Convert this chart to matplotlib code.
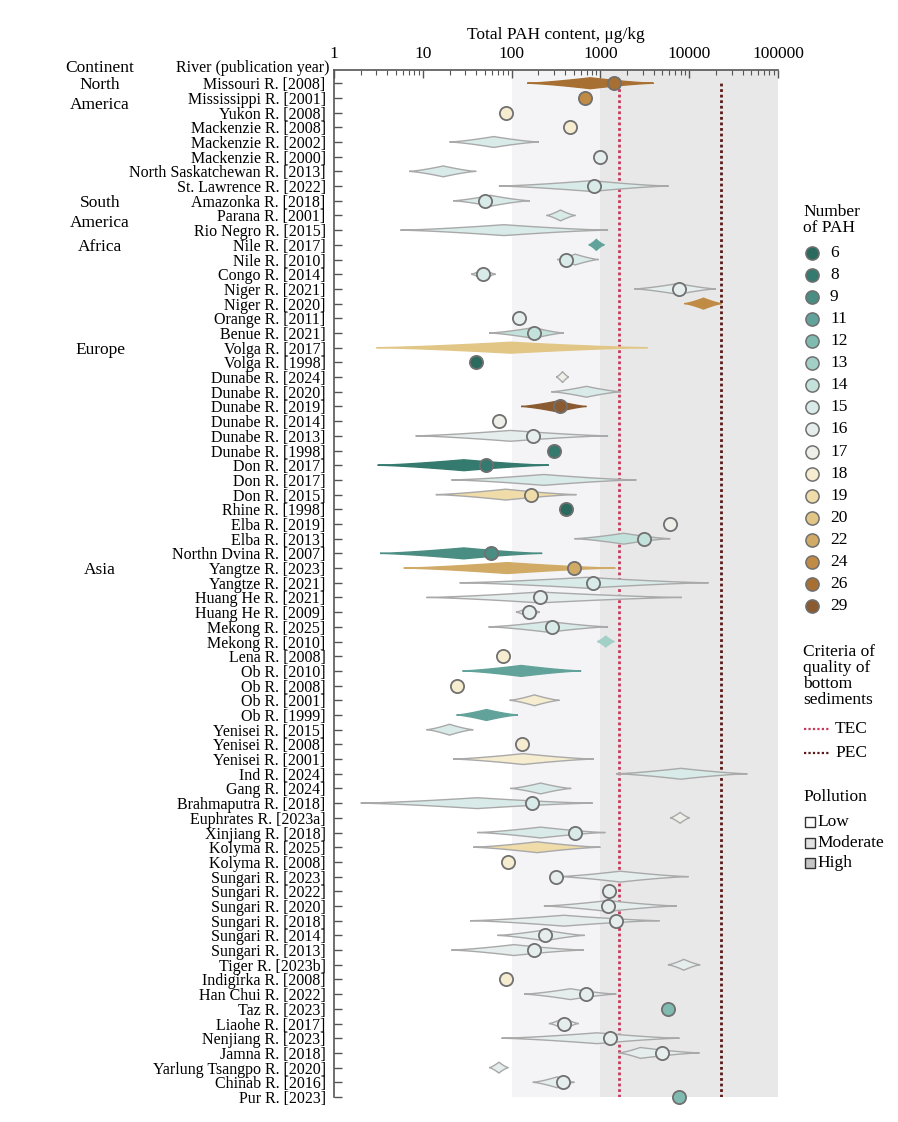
import numpy as np
import matplotlib
matplotlib.use("Agg")
import matplotlib.pyplot as plt
from matplotlib.transforms import blended_transform_factory
from matplotlib.ticker import LogLocator, NullFormatter

plt.rcParams['font.family'] = ['Liberation Serif', 'DejaVu Serif']

# rows, top to bottom
rivers = [
    "Missouri R. [2008]", "Mississippi R. [2001]", "Yukon R. [2008]", "Mackenzie R. [2008]",
    "Mackenzie R. [2002]", "Mackenzie R. [2000]", "North Saskatchewan R. [2013]",
    "St. Lawrence R. [2022]", "Amazonka R. [2018]", "Parana R. [2001]", "Rio Negro R. [2015]",
    "Nile R. [2017]", "Nile R. [2010]", "Congo R. [2014]", "Niger R. [2021]", "Niger R. [2020]",
    "Orange R. [2011]", "Benue R. [2021]", "Volga R. [2017]", "Volga R. [1998]",
    "Dunabe R. [2024]", "Dunabe R. [2020]", "Dunabe R. [2019]", "Dunabe R. [2014]",
    "Dunabe R. [2013]", "Dunabe R. [1998]", "Don R. [2017]", "Don R. [2017]", "Don R. [2015]",
    "Rhine R. [1998]", "Elba R. [2019]", "Elba R. [2013]", "Northn Dvina R. [2007]",
    "Yangtze R. [2023]", "Yangtze R. [2021]", "Huang He R. [2021]", "Huang He R. [2009]",
    "Mekong R. [2025]", "Mekong R. [2010]", "Lena R. [2008]", "Ob R. [2010]", "Ob R. [2008]",
    "Ob R. [2001]", "Ob R. [1999]", "Yenisei R. [2015]", "Yenisei R. [2008]",
    "Yenisei R. [2001]", "Ind R. [2024]", "Gang R. [2024]", "Brahmaputra R. [2018]",
    "Euphrates R. [2023a]", "Xinjiang R. [2018]", "Kolyma R. [2025]", "Kolyma R. [2008]",
    "Sungari R. [2023]", "Sungari R. [2022]", "Sungari R. [2020]", "Sungari R. [2018]",
    "Sungari R. [2014]", "Sungari R. [2013]", "Tiger R. [2023b]", "Indigirka R. [2008]",
    "Han Chui R. [2022]", "Taz R. [2023]", "Liaohe R. [2017]", "Nenjiang R. [2023]",
    "Jamna R. [2018]", "Yarlung Tsangpo R. [2020]", "Chinab R. [2016]", "Pur R. [2023]",
]
n_pah = [26, 24, 18, 18, 15, 16, 15, 15, 15, 15, 15, 11, 15, 15, 16, 24, 16, 14, 20, 6,
         17, 15, 29, 17, 16, 8, 8, 15, 19, 6, 17, 14, 9, 22, 15, 16, 16, 15, 13, 18,
         11, 18, 18, 11, 15, 18, 18, 15, 15, 15, 17, 15, 19, 18, 16, 16, 16, 16, 16, 16,
         16, 18, 16, 12, 16, 16, 16, 16, 16, 12]
N = None
range_lo = [150, N, N, N, 20, N, 7, 72, 22, 247, 5.6, 739, 326, 35, 2410, 8850, N, 56, 3.0, N,
            318, 279, 128, N, 8.3, N, 3.1, 21, 14, N, N, 510, 3.3, 6.1, 26, 11, 112, 55, 918, N,
            28, N, 95, 24, 11, N, 22, 1500, 97, 2.0, 6120, 41, 37, N, 330, N, 231, 34, 69, 21,
            5760, N, 138, N, 263, 77, 1607, 56, 173, N]
range_peak = [770, N, N, N, 63, N, 17, 800, 58, 355, 82, 900, 520, 48, 7500, 14500, N, 178, 97, N,
              375, 696, 330, N, 97, N, 29, 231, 86, N, N, 1830, 29, 89, 700, 208, 159, 260, 1150, N,
              128, N, 181, 52, 20, N, 135, 8060, 212, 41, 7900, 212, 194, N, 1680, N, 1210, 387, 237, 106,
              8700, N, 460, N, 387, 918, 2810, 72, 326, N]
range_hi = [3970, N, N, N, 203, N, 40, 5860, 161, 524, 1220, 1109, 957, 66, 19950, 23300, N, 387, 3400, N,
            441, 1710, 696, N, 1220, N, 263, 2540, 537, N, N, 6120, 221, 1475, 16500, 8280, 208, 1220, 1437, N,
            607, N, 346, 118, 37, N, 841, 45200, 469, 820, 10100, 1138, 1000, N, 9830, N, 7270, 4640, 667, 650,
            13300, N, 1510, N, 571, 7780, 13060, 92, 510, N]
point_val = [1440, 670, 86, 460, N, 1000, N, 857, 50, N, N, N, 415, 48, 7720, N, 122, 178, N, 40,
             N, N, 355, 73, 172, 304, 52, N, 166, 408, 6120, 3070, 58, 506, 820, 208, 159, 287, N, 81,
             N, 24, N, N, N, 131, N, N, N, 171, N, 519, N, 92, 320, 1240, 1210, 1510, 237, 181,
             N, 86, 690, 5760, 387, 1270, 4930, N, 378, 7720]

continents = ["North\nAmerica", "South\nAmerica", "Africa", "Europe", "Asia"]
continent_start = [0, 8, 11, 18, 33]

pah_levels = [6, 8, 9, 11, 12, 13, 14, 15, 16, 17, 18, 19, 20, 22, 24, 26, 29]
pah_colors = ["#2b6b5f", "#347a6e", "#4a8d82", "#61a39a", "#80bbb1", "#a2d0c7", "#c3e2dc",
              "#d9ebe8", "#e5eded", "#efefe9", "#f6ecd0", "#efdca8", "#e2c686", "#d1aa66",
              "#c08b44", "#a86f32", "#8a5b30"]
pah_color = dict(zip(pah_levels, pah_colors))

tec, pec = 1610, 22800
pollution = ["Low", "Moderate", "High"]
pollution_edges = [1, 100, 1000, 100000]
band_colors = ["#ffffff", "#f4f4f6", "#e8e8e8"]
swatch_colors = ["#ffffff", "#e3e3e3", "#c6c6c6"]


def diamond(lo, pk, hi, y, h=0.37, p=1.35, n=40):
    a, b, c = np.log10([lo, pk, hi])
    t = np.linspace(0, 1, n)
    xl = a + (b - a) * t
    xr = c + (b - c) * t
    w = h * t ** p
    xs = np.concatenate([xl, xr[::-1]])
    ws = np.concatenate([w, w[::-1]])
    xx = np.concatenate([xs, xs[::-1]])
    yy = np.concatenate([y - ws, y + ws[::-1]])
    return 10 ** xx, yy


fig = plt.figure(figsize=(8.98, 11.22), dpi=100)
ax = fig.add_axes([334 / 898, 1 - 1097 / 1122, 444 / 898, 1027 / 1122])

nrow = len(rivers)
ax.set_xscale('log')
ax.set_xlim(1, 100000)
ax.set_ylim(nrow - 1, -0.9)

for k in range(3):
    ax.axvspan(pollution_edges[k], pollution_edges[k + 1], color=band_colors[k], zorder=0, lw=0)

ax.plot([tec, tec], [nrow - 1, -0.1], ls=(0, (1, 1)), color="#c8385a", lw=2, zorder=1)
ax.plot([pec, pec], [nrow - 1, -0.1], ls=(0, (1, 1)), color="#5a1818", lw=2, zorder=1)

for i in range(nrow):
    col = pah_color[n_pah[i]]
    if range_lo[i] is not None:
        xs, ys = diamond(range_lo[i], range_peak[i], range_hi[i], i)
        ec = "#a9a9a9" if 14 <= n_pah[i] <= 19 else col
        ax.fill(xs, ys, facecolor=col, edgecolor=ec, lw=1.0, zorder=2)
    if point_val[i] is not None:
        ax.plot(point_val[i], i, 'o', ms=9.5, mfc=col, mec="#707070", mew=1.3,
                zorder=3, clip_on=False)

ax.set_yticks(range(nrow))
ax.set_yticklabels(rivers, fontsize=11.5)
ax.tick_params(axis='y', direction='in', length=6, width=1, pad=6, color="#555555")

ax.xaxis.tick_top()
ax.xaxis.set_label_position('top')
ax.set_xticks([1, 10, 100, 1000, 10000, 100000])
ax.set_xticklabels(['1', '10', '100', '1000', '10000', '100000'], fontsize=12.5)
ax.xaxis.set_minor_locator(LogLocator(base=10, subs=np.arange(2, 10)))
ax.xaxis.set_minor_formatter(NullFormatter())
ax.tick_params(axis='x', which='major', direction='in', length=6, width=1, pad=6, color="#555555")
ax.tick_params(axis='x', which='minor', direction='in', length=3.5, width=0.8, color="#555555")
ax.set_xlabel("Total PAH content, μg/kg", fontsize=12.5, labelpad=5)

for s in ['right', 'bottom']:
    ax.spines[s].set_visible(False)
for s in ['left', 'top']:
    ax.spines[s].set_color("#555555")
    ax.spines[s].set_linewidth(1.2)

# continent column
tr = blended_transform_factory(fig.transFigure, ax.transData)
for name, row in zip(continents, continent_start):
    for k, line in enumerate(name.split("\n")):
        ax.text(100 / 898, row + 0.15 + k * 1.36, line, transform=tr, ha='center', va='center',
                fontsize=12.5, clip_on=False)

# overlay for headers and legend, in pixel units
lax = fig.add_axes([0, 0, 1, 1], zorder=-1)
lax.set_xlim(0, 898)
lax.set_ylim(1122, 0)
lax.axis('off')

lax.text(100, 68, "Continent", ha='center', va='center', fontsize=12.5)
lax.text(329, 68, "River (publication year)", ha='right', va='center', fontsize=11.5)

lax.text(803, 220, "Number\nof PAH", ha='left', va='center', fontsize=12.5, linespacing=1.05)
for k, (lev, c) in enumerate(zip(pah_levels, pah_colors)):
    y = 253 + k * 22.06
    lax.plot(812, y, 'o', ms=9.5, mfc=c, mec="#707070", mew=1.1)
    lax.text(830, y, str(lev), ha='left', va='center', fontsize=12.5)

lax.text(803, 676, "Criteria of\nquality of\nbottom\nsediments", ha='left', va='center',
         fontsize=12.5, linespacing=1.0)
lax.plot([804, 830], [729, 729], ls=(0, (1, 1)), color="#c8385a", lw=1.6)
lax.text(835, 729, "TEC", ha='left', va='center', fontsize=12.5)
lax.plot([804, 830], [753, 753], ls=(0, (1, 1)), color="#5a1818", lw=1.6)
lax.text(835, 753, "PEC", ha='left', va='center', fontsize=12.5)

lax.text(803, 797, "Pollution", ha='left', va='center', fontsize=12.5)
for k, (lab, c) in enumerate(zip(pollution, swatch_colors)):
    y = 822 + k * 20.5
    lax.plot(810, y, 's', ms=7.5, mfc=c, mec="#333333", mew=1.0)
    lax.text(817, y, lab, ha='left', va='center', fontsize=12.5)

fig.savefig("out.png", dpi=100)
